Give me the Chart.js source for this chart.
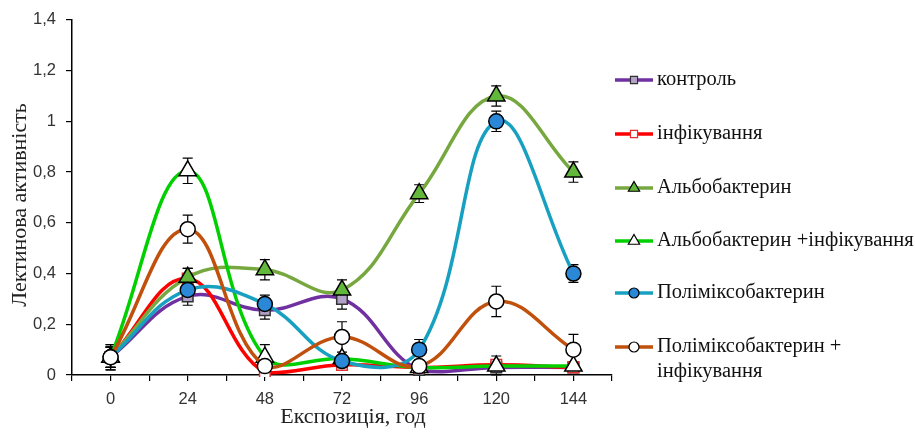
<!DOCTYPE html>
<html>
<head>
<meta charset="utf-8">
<script src="https://cdn.jsdelivr.net/npm/chart.js@4/dist/chart.umd.min.js"></script>
<style>
  html, body { margin: 0; padding: 0; background: #fff; }
  #wrap { width: 915px; height: 434px; position: relative; }
</style>
</head>
<body>
<div id="wrap"><canvas id="c" width="915" height="434"></canvas></div>
<script>
// ---- data ----
const times = [0, 24, 48, 72, 96, 120, 144];
const seriesNames = ['контроль', 'інфікування', 'Альбобактерин', 'Альбобактерин +інфікування', 'Поліміксобактерин', 'Поліміксобактерин +\nінфікування'];
const control     = [0.07, 0.31, 0.255, 0.30, 0.02, 0.03, 0.03];
const controlErr  = [0.04, 0.035, 0.035, 0.04, 0.01, 0.01, 0.01];
const infik       = [0.07, 0.38, 0.01, 0.04, 0.03, 0.04, 0.03];
const infikErr    = [0.04, 0.04, 0.01, 0.01, 0.01, 0.01, 0.01];
const albo        = [0.07, 0.385, 0.415, 0.335, 0.715, 1.10, 0.80];
const alboErr     = [0.04, 0.035, 0.04, 0.04, 0.035, 0.04, 0.04];
const alboInf     = [0.07, 0.805, 0.07, 0.065, 0.03, 0.035, 0.035];
const alboInfErr  = [0.05, 0.05, 0.05, 0.01, 0.01, 0.04, 0.01];
const poly        = [0.07, 0.335, 0.28, 0.055, 0.10, 1.00, 0.40];
const polyErr     = [0.04, 0.03, 0.035, 0.02, 0.04, 0.04, 0.035];
const polyInf     = [0.07, 0.575, 0.035, 0.15, 0.035, 0.29, 0.10];
const polyInfErr  = [0.05, 0.055, 0.01, 0.06, 0.01, 0.06, 0.06];
const yTickValues = [0, 0.2, 0.4, 0.6, 0.8, 1, 1.2, 1.4];
const xLabelValues = [0, 24, 48, 72, 96, 120, 144];

const styles = [
  { line: '#7030A0', fill: '#B3A2C7', stroke: '#333', shape: 'rect', r: 7.5 },
  { line: '#FF0000', fill: '#FFFFFF', stroke: '#E03030', shape: 'rect', r: 7.5 },
  { line: '#77A840', fill: '#62B83A', stroke: '#000', shape: 'triangle', r: 10 },
  { line: '#00D000', fill: '#FFFFFF', stroke: '#000', shape: 'triangle', r: 10 },
  { line: '#18A0C0', fill: '#2A88D6', stroke: '#000', shape: 'circle', r: 7.5 },
  { line: '#C0500C', fill: '#FFFFFF', stroke: '#000', shape: 'circle', r: 7.5 }
];
const values = [control, infik, albo, alboInf, poly, polyInf];
const errors = [controlErr, infikErr, alboErr, alboInfErr, polyErr, polyInfErr];

const datasets = values.map((vals, i) => ({
  label: seriesNames[i],
  data: times.map((t, k) => ({ x: t, y: vals[k] })),
  errorBars: errors[i],
  borderColor: styles[i].line,
  borderWidth: 3.5,
  tension: 0.4,
  fill: false,
  pointStyle: styles[i].shape,
  pointRadius: styles[i].r,
  pointBackgroundColor: styles[i].fill,
  pointBorderColor: styles[i].stroke,
  pointBorderWidth: 1.5,
  order: values.length - 1 - i,
  clip: { left: 12, right: 12, top: 12, bottom: 2 }
}));

const errorBarPlugin = {
  id: 'errorBars',
  beforeDatasetsDraw(chart) {
    const ctx = chart.ctx;
    const ys = chart.scales.y;
    ctx.save();
    ctx.strokeStyle = '#000';
    ctx.lineWidth = 1.2;
    chart.data.datasets.forEach((ds, i) => {
      const meta = chart.getDatasetMeta(i);
      meta.data.forEach((pt, k) => {
        const v = ds.data[k].y, e = ds.errorBars[k];
        const yTop = ys.getPixelForValue(v + e);
        const yBot = ys.getPixelForValue(Math.max(0, v - e));
        const x = pt.x;
        ctx.beginPath();
        ctx.moveTo(x, yTop); ctx.lineTo(x, yBot);
        ctx.moveTo(x - 5, yTop); ctx.lineTo(x + 5, yTop);
        ctx.moveTo(x - 5, yBot); ctx.lineTo(x + 5, yBot);
        ctx.stroke();
      });
    });
    ctx.restore();
  }
};

const textPlugin = {
  id: 'texts',
  afterDraw(chart) {
    const ctx = chart.ctx;
    ctx.save();
    // axis titles
    ctx.fillStyle = '#222';
    ctx.font = '22px "Liberation Serif"';
    ctx.textAlign = 'center';
    ctx.textBaseline = 'middle';
    ctx.fillText('Експозиція, год', 353, 417);
    ctx.save();
    ctx.translate(20, 205);
    ctx.rotate(-Math.PI / 2);
    ctx.fillText('Лектинова активність', 0, 0);
    ctx.restore();
    // legend
    const ys = [80, 134, 188, 241, 293, 347];
    ctx.font = '20.5px "Liberation Serif"';
    ctx.textAlign = 'left';
    chart.data.datasets.forEach((ds, i) => {
      const y = ys[i];
      const st = styles[i];
      ctx.strokeStyle = st.line;
      ctx.lineWidth = 3.5;
      ctx.beginPath();
      ctx.moveTo(615, y); ctx.lineTo(653, y);
      ctx.stroke();
      ctx.fillStyle = st.fill;
      ctx.strokeStyle = st.stroke;
      ctx.lineWidth = 1.2;
      Chart.helpers.drawPoint(ctx, {
        pointStyle: st.shape,
        radius: st.shape === 'triangle' ? 6.5 : 5,
        rotation: 0,
        borderWidth: 1.2
      }, 634, y);
      ctx.fillStyle = '#111';
      const lines = ds.label.split('\n');
      lines.forEach((ln, j) => ctx.fillText(ln, 657, y + j * 25));
    });
    ctx.restore();
  }
};

new Chart(document.getElementById('c'), {
  type: 'line',
  data: { datasets },
  plugins: [errorBarPlugin, textPlugin],
  options: {
    responsive: false,
    animation: false,
    events: [],
    layout: { padding: { top: 17, right: 303, left: 0, bottom: 0 } },
    plugins: { legend: { display: false }, tooltip: { enabled: false } },
    scales: {
      x: {
        type: 'linear',
        min: -12, max: 156,
        afterFit(s) { s.height = 59; },
        afterBuildTicks(s) {
          const t = [];
          for (let v = -12; v <= 156; v += 12) t.push({ value: v });
          s.ticks = t;
        },
        ticks: {
          autoSkip: false,
          maxRotation: 0,
          padding: 9,
          color: '#333',
          font: { family: '"Liberation Sans"', size: 16.5 },
          callback: (v) => xLabelValues.includes(v) ? String(v) : ''
        },
        grid: { display: true, drawOnChartArea: false, drawTicks: true, tickLength: 6, color: '#000', lineWidth: 1.2 },
        border: { display: true, color: '#000', width: 1.5 }
      },
      y: {
        min: 0, max: 1.4,
        afterFit(s) { s.width = 72; },
        afterBuildTicks(s) { s.ticks = yTickValues.map(v => ({ value: v })); },
        ticks: {
          padding: 10,
          color: '#333',
          font: { family: '"Liberation Sans"', size: 16.5 },
          callback: (v) => String(Math.round(v * 10) / 10).replace('.', ',')
        },
        grid: { display: true, drawOnChartArea: false, drawTicks: true, tickLength: 6, color: '#000', lineWidth: 1.2 },
        border: { display: true, color: '#000', width: 1.5 }
      }
    }
  }
});
</script>
</body>
</html>
